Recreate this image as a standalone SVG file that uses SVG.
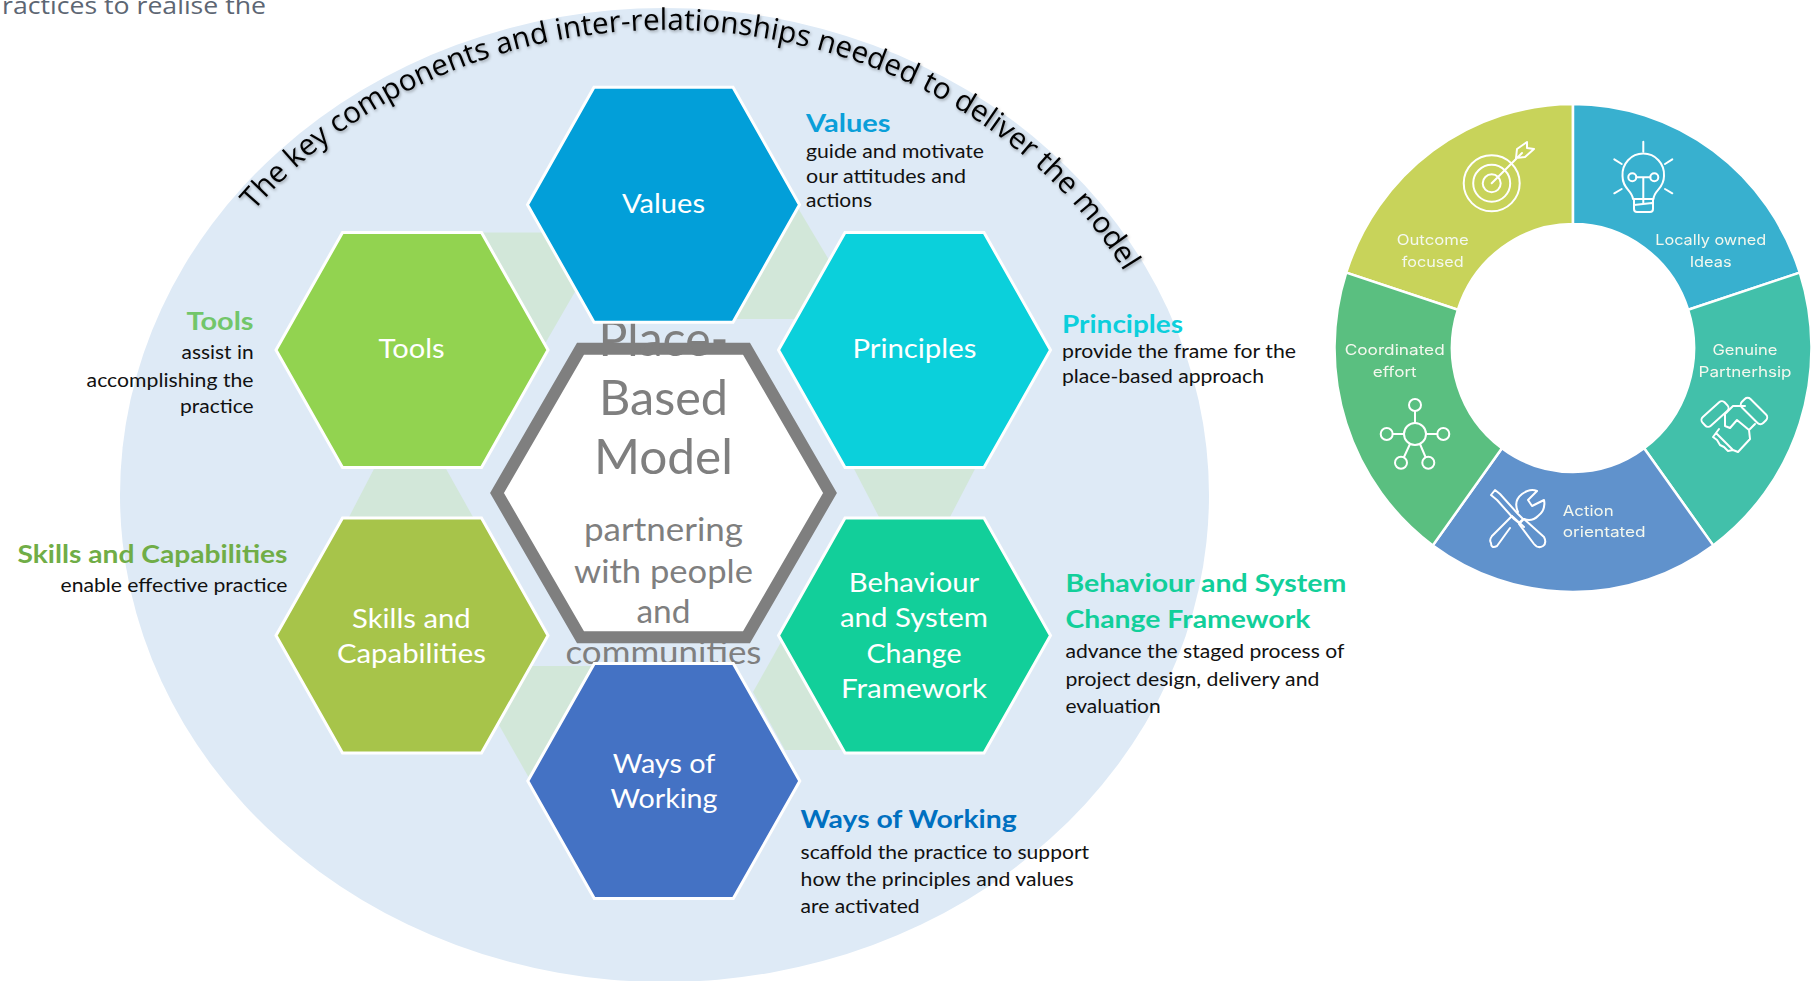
<svg xmlns="http://www.w3.org/2000/svg" width="1819" height="981" viewBox="0 0 1819 981">
<style>
text{font-family:"Lato","Liberation Sans",sans-serif}
.hx{stroke:#fff;stroke-width:3}
.lab{font-size:27.5px;fill:#fff;text-anchor:middle}
.h{font-size:25px;font-weight:700}
.b{font-size:19.5px;fill:#111}
.e{text-anchor:end}
.big{font-size:49px;fill:#7f7f7f;text-anchor:middle}
.sub{font-size:33px;fill:#7f7f7f;text-anchor:middle}
.link{fill:#d2e7d9}
.seg{stroke:#fff;stroke-width:2.5}
.d{font-family:"Inter","Lato",sans-serif;font-size:14.5px;fill:#f4f8ee;text-anchor:middle}
.ic{fill:none;stroke:#fff;stroke-width:2;stroke-linecap:round;stroke-linejoin:round}
</style>
<defs>
<polygon id="hex" points="-136,0 -69.5,-117.5 69.5,-117.5 136,0 69.5,117.5 -69.5,117.5"/>
<filter id="sh" x="-5%" y="-5%" width="110%" height="110%"><feDropShadow dx="1" dy="1.5" stdDeviation="1.6" flood-color="#000" flood-opacity=".35"/></filter>
<filter id="soft" x="-2%" y="-2%" width="104%" height="104%"><feGaussianBlur stdDeviation=".35"/></filter>
<path id="arc" d="M254,211 A520,462 0 0 1 1140,300"/>
</defs>

<ellipse id="backdrop" cx="664.5" cy="495" rx="544.5" ry="487" fill="#deeaf6"/>
<text id="intro" x="2" y="14" font-size="24" fill="#5d6673" textLength="264" lengthAdjust="spacingAndGlyphs" style="font-family:'Open Sans',sans-serif">ractices to realise the</text>
<g id="arc-title" filter="url(#sh)"><text style="font-family:'Open Sans',sans-serif;font-size:29.6px" fill="#000"><textPath href="#arc">The key components and inter-relationships needed to deliver the model</textPath></text></g>

<g id="connectors">
<polygon class="link" points="482,232.5 548,232.5 590,291.7 575,291.7 546,342 500,342"/>
<polygon class="link" points="798,208 829,260 795,319 735,319 700,260"/>
<polygon class="link" points="375,467 445,467 473,517 349,517"/>
<polygon class="link" points="853,467 976,467 950,517 879,517"/>
<polygon class="link" points="525,666 600,666 560,775 529,778 499,725"/>
<polygon class="link" points="785,635 753,692 785,750 845,750 800,640"/>
</g>

<g id="node-center">
<polygon points="497,493 580.5,348.7 746.5,348.7 830,493 746.5,637.3 580.5,637.3" fill="#fff" stroke="#7f7f7f" stroke-width="12"/>
<text class="big" x="663.5" y="356" textLength="130" lengthAdjust="spacingAndGlyphs">Place-</text>
<text class="big" x="663.5" y="415" textLength="129" lengthAdjust="spacingAndGlyphs">Based</text>
<text class="big" x="663.5" y="474" textLength="139" lengthAdjust="spacingAndGlyphs">Model</text>
<text class="sub" x="663.5" y="541" textLength="159" lengthAdjust="spacingAndGlyphs">partnering</text>
<text class="sub" x="663.5" y="582.5" textLength="179" lengthAdjust="spacingAndGlyphs">with people</text>
<text class="sub" x="663.5" y="623" textLength="54" lengthAdjust="spacingAndGlyphs">and</text>
<text class="sub" x="663.5" y="664" textLength="196" lengthAdjust="spacingAndGlyphs">communities</text>
</g>

<g id="node-values">
<use href="#hex" x="663.5" y="204.7" fill="#029fd9" class="hx"/>
<text class="lab" x="663.5" y="213" textLength="83" lengthAdjust="spacingAndGlyphs">Values</text>
<text class="h" x="806" y="131.7" fill="#0a9fd9" textLength="84.5" lengthAdjust="spacingAndGlyphs">Values</text>
<text class="b" x="806" y="158.3" textLength="178" lengthAdjust="spacingAndGlyphs">guide and motivate</text>
<text class="b" x="806" y="182.7" textLength="160" lengthAdjust="spacingAndGlyphs">our attitudes and</text>
<text class="b" x="806" y="207" textLength="66" lengthAdjust="spacingAndGlyphs">actions</text>
</g>
<g id="node-tools">
<use href="#hex" x="412" y="350" fill="#92d350" class="hx"/>
<text class="lab" x="411.6" y="358" textLength="66" lengthAdjust="spacingAndGlyphs">Tools</text>
<text class="h e" x="253.6" y="330" fill="#72c66a" textLength="67" lengthAdjust="spacingAndGlyphs">Tools</text>
<text class="b e" x="253.6" y="359" textLength="72" lengthAdjust="spacingAndGlyphs">assist in</text>
<text class="b e" x="253.6" y="386.7" textLength="167" lengthAdjust="spacingAndGlyphs">accomplishing the</text>
<text class="b e" x="253.6" y="413" textLength="73.5" lengthAdjust="spacingAndGlyphs">practice</text>
</g>
<g id="node-principles">
<use href="#hex" x="914.5" y="350" fill="#0bd0db" class="hx"/>
<text class="lab" x="914.4" y="358" textLength="124" lengthAdjust="spacingAndGlyphs">Principles</text>
<text class="h" x="1062" y="333" fill="#0ccfdc" textLength="121" lengthAdjust="spacingAndGlyphs">Principles</text>
<text class="b" x="1062" y="358" textLength="234" lengthAdjust="spacingAndGlyphs">provide the frame for the</text>
<text class="b" x="1062" y="383" textLength="202" lengthAdjust="spacingAndGlyphs">place-based approach</text>
</g>
<g id="node-skills">
<use href="#hex" x="412" y="635.5" fill="#a7c44a" class="hx"/>
<text class="lab" x="411.4" y="627.7" textLength="118.6" lengthAdjust="spacingAndGlyphs">Skills and</text>
<text class="lab" x="411.4" y="662.7" textLength="149" lengthAdjust="spacingAndGlyphs">Capabilities</text>
<text class="h e" x="287.5" y="562.7" fill="#70ad47" textLength="270" lengthAdjust="spacingAndGlyphs">Skills and Capabilities</text>
<text class="b e" x="287.5" y="592" textLength="227" lengthAdjust="spacingAndGlyphs">enable effective practice</text>
</g>
<g id="node-behaviour">
<use href="#hex" x="914.5" y="635.5" fill="#12cf9a" class="hx"/>
<text class="lab" x="914" y="591.7" textLength="130.5" lengthAdjust="spacingAndGlyphs">Behaviour</text>
<text class="lab" x="914" y="626.7" textLength="148" lengthAdjust="spacingAndGlyphs">and System</text>
<text class="lab" x="914" y="662.7" textLength="95" lengthAdjust="spacingAndGlyphs">Change</text>
<text class="lab" x="914" y="697.7" textLength="146" lengthAdjust="spacingAndGlyphs">Framework</text>
<text class="h" x="1065.4" y="591.7" fill="#12cf9a" textLength="281" lengthAdjust="spacingAndGlyphs">Behaviour and System</text>
<text class="h" x="1065.4" y="628" fill="#12cf9a" textLength="245" lengthAdjust="spacingAndGlyphs">Change Framework</text>
<text class="b" x="1065.4" y="658" textLength="279" lengthAdjust="spacingAndGlyphs">advance the staged process of</text>
<text class="b" x="1065.4" y="685.7" textLength="254" lengthAdjust="spacingAndGlyphs">project design, delivery and</text>
<text class="b" x="1065.4" y="712.7" textLength="95.3" lengthAdjust="spacingAndGlyphs">evaluation</text>
</g>
<g id="node-ways">
<use href="#hex" x="663.8" y="781" fill="#4472c4" class="hx"/>
<text class="lab" x="664" y="773" textLength="102.5" lengthAdjust="spacingAndGlyphs">Ways of</text>
<text class="lab" x="664" y="808" textLength="107" lengthAdjust="spacingAndGlyphs">Working</text>
<text class="h" x="800.6" y="828" fill="#0070c0" textLength="216" lengthAdjust="spacingAndGlyphs">Ways of Working</text>
<text class="b" x="800.6" y="859" textLength="288.5" lengthAdjust="spacingAndGlyphs">scaffold the practice to support</text>
<text class="b" x="800.6" y="886" textLength="273" lengthAdjust="spacingAndGlyphs">how the principles and values</text>
<text class="b" x="800.6" y="913" textLength="119" lengthAdjust="spacingAndGlyphs">are activated</text>
</g>

<g id="donut" filter="url(#soft)">
<g id="seg-outcome">
<path class="seg" fill="#c8d35a" d="M1573,104 A238.5,244 0 0 0 1346.2,272.6 L1457.9,309.7 A121,124 0 0 1 1573,224 Z"/>
<text class="d" x="1432.7" y="245" textLength="72" lengthAdjust="spacingAndGlyphs">Outcome</text>
<text class="d" x="1432.7" y="266.7" textLength="62" lengthAdjust="spacingAndGlyphs">focused</text>
<g class="ic"><circle cx="1491.7" cy="183.3" r="28"/><circle cx="1491.7" cy="183.3" r="18.5"/><circle cx="1491.7" cy="183.3" r="9"/><path d="M1491.7,183.3 L1522,153 M1517,149 L1516,158 L1525,157 L1534,149 L1527,148 L1527,142 Z"/></g>
</g>
<g id="seg-ideas">
<path class="seg" fill="#38b0cf" d="M1573,104 A238.5,244 0 0 1 1799.8,272.6 L1688.1,309.7 A121,124 0 0 0 1573,224 Z"/>
<text class="d" x="1710.7" y="245" textLength="111" lengthAdjust="spacingAndGlyphs">Locally owned</text>
<text class="d" x="1710.7" y="266.7" textLength="42" lengthAdjust="spacingAndGlyphs">Ideas</text>
<g class="ic"><path d="M1643.3,141.7 V151.7 M1614.3,159.3 L1621.7,164 M1672.3,159.3 L1665,164 M1614.3,193.3 L1621.7,189 M1672.3,193.3 L1665,189"/><path d="M1633,199 C1632,190 1622.5,189 1622.5,176 A20.8,21 0 1 1 1664,176 C1664,189 1654,190 1653.5,199 Z"/><path d="M1634,199 V209 Q1634,212 1637,212 H1650 Q1653,212 1653,209 V199 M1634,205 L1652,203"/><circle cx="1632.3" cy="177.3" r="4"/><circle cx="1654.3" cy="177.3" r="4"/><path d="M1636.3,177.3 H1650.3 M1643.3,177.3 V203"/></g>
</g>
<g id="seg-partnership">
<path class="seg" fill="#42c0aa" d="M1799.8,272.6 A238.5,244 0 0 1 1713.2,545.4 L1644.1,448.3 A121,124 0 0 0 1688.1,309.7 Z"/>
<text class="d" x="1745" y="355" textLength="65" lengthAdjust="spacingAndGlyphs">Genuine</text>
<text class="d" x="1745" y="376.7" textLength="93" lengthAdjust="spacingAndGlyphs">Partnerhsip</text>
<g class="ic"><rect x="-15" y="-6" width="30" height="12" rx="4" transform="translate(1715,414) rotate(-42)"/><rect x="-15" y="-6" width="30" height="12" rx="4" transform="translate(1754,411) rotate(45)"/><path d="M1745,406 H1733 L1725,414 V426 L1730,428 L1737,420 L1749,430 L1755,424 M1749,430 L1750,439 L1738,452 L1733,450 L1716,433 L1719,429 M1716,433 L1713,437 L1717,440 L1720,445 L1724,447 L1728,451 L1733,450"/></g>
</g>
<g id="seg-action">
<path class="seg" fill="#6192cc" d="M1713.2,545.4 A238.5,244 0 0 1 1432.8,545.4 L1501.9,448.3 A121,124 0 0 0 1644.1,448.3 Z"/>
<text class="d" x="1562.7" y="515.7" textLength="51" lengthAdjust="spacingAndGlyphs" style="text-anchor:start">Action</text>
<text class="d" x="1562.7" y="537.3" textLength="83" lengthAdjust="spacingAndGlyphs" style="text-anchor:start">orientated</text>
<g class="ic"><path d="M1491,495 L1495,490 L1500,494 L1518,514 L1523,519 L1519,523 L1514,519 L1497,500 Z"/><path d="M1519,524 L1524,519 L1544,537 Q1547,543 1543,546 Q1538,549 1534,544 Z"/><path d="M1492,536 L1512,516 M1510,528 L1497,546 Q1491,549 1491,543 Q1489,540 1492,536 M1512,516 L1524,527 M1518,512 Q1513,501 1522,494 Q1530,488 1537,491 L1528,500 L1532,506 L1544,500 Q1546,510 1538,516 Q1532,522 1524,519"/></g>
</g>
<g id="seg-effort">
<path class="seg" fill="#5abf80" d="M1346.2,272.6 A238.5,244 0 0 0 1432.8,545.4 L1501.9,448.3 A121,124 0 0 1 1457.9,309.7 Z"/>
<text class="d" x="1394.7" y="355" textLength="100" lengthAdjust="spacingAndGlyphs">Coordinated</text>
<text class="d" x="1394.7" y="376.7" textLength="44" lengthAdjust="spacingAndGlyphs">effort</text>
<g class="ic"><circle cx="1415" cy="434" r="11"/><circle cx="1415" cy="405" r="6"/><circle cx="1386.7" cy="434" r="6"/><circle cx="1443.3" cy="434" r="6"/><circle cx="1401" cy="462.7" r="6"/><circle cx="1428.3" cy="462.7" r="6"/><path d="M1415,411 V423 M1392.7,434 H1404 M1426,434 H1437.3 M1410,444 L1404,457 M1420,444 L1425.5,457"/></g>
</g>
</g>
</svg>
